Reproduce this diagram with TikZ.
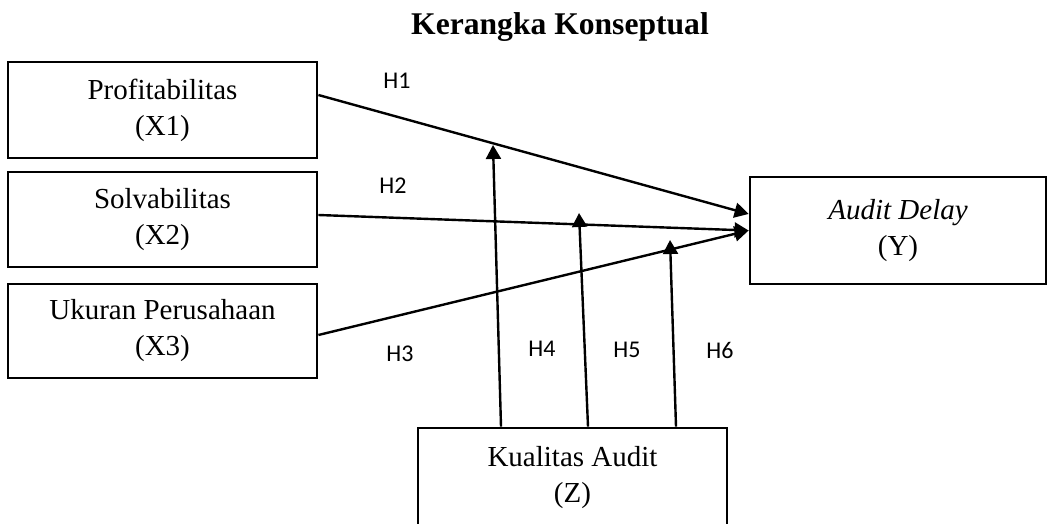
\documentclass[tikz,border=0pt]{standalone}
\usepackage{fontspec}
\setmainfont{Liberation Serif}
\newfontfamily\hfont{Carlito}
\usetikzlibrary{arrows.meta}

\begin{document}
\begin{tikzpicture}[x=0.5pt,y=-0.5pt,
    var/.style={draw,line width=1.4pt,align=center,inner sep=0pt,
        minimum width=154.5pt,font=\fontsize{14.5}{18}\selectfont,
        execute at begin node={\rule{0pt}{13pt}}},
    hyp/.style={font=\hfont\fontsize{12}{14}\selectfont},
    link/.style={line width=1.2pt,-{Triangle[length=7pt,width=7.5pt]}}]
    \useasboundingbox (0,0) rectangle (1048,524);
    \clip (0,0) rectangle (1048,524);
    % title
    \node[font=\bfseries\fontsize{15.8}{18}\selectfont] (title) at (560,27) {Kerangka Konseptual};
    % variables
    \node[var,minimum height=48pt] (x1) at (162.5,110) {Profitabilitas\\(X1)};
    \node[var,minimum height=47.5pt] (x2) at (162.5,219.5) {Solvabilitas\\(X2)};
    \node[var,minimum height=47pt] (x3) at (162.5,331) {Ukuran Perusahaan\\(X3)};
    \node[var,minimum width=148pt,minimum height=53.5pt] (y) at (898,230.5) {\textit{Audit Delay}\\(Y)};
    \node[var,minimum height=50pt] (z) at (572.5,478) {Kualitas Audit\\(Z)};
    % moderating tips
    \coordinate (m4) at (493,145);
    \coordinate (m5) at (579,213);
    \coordinate (m6) at (670,240);
    % direct paths
    \draw[link] ([yshift=7.5pt]x1.east) -- ([yshift=8.25pt]y.west);
    \draw[link] ([yshift=2.25pt]x2.east) -- (y.west);
    \draw[link] ([yshift=-2pt]x3.east) -- (y.west);
    % moderation
    \draw[link] ([xshift=-35.75pt]z.north) -- (m4);
    \draw[link] ([xshift=7.75pt]z.north) -- (m5);
    \draw[link] ([xshift=51.75pt]z.north) -- (m6);
    % labels
    \node[hyp] (h1) at (397,81) {H1};
    \node[hyp] (h2) at (393,186) {H2};
    \node[hyp] (h3) at (400,354) {H3};
    \node[hyp] (h4) at (542,349) {H4};
    \node[hyp] (h5) at (627,350) {H5};
    \node[hyp] (h6) at (720,350) {H6};
\end{tikzpicture}
\end{document}
